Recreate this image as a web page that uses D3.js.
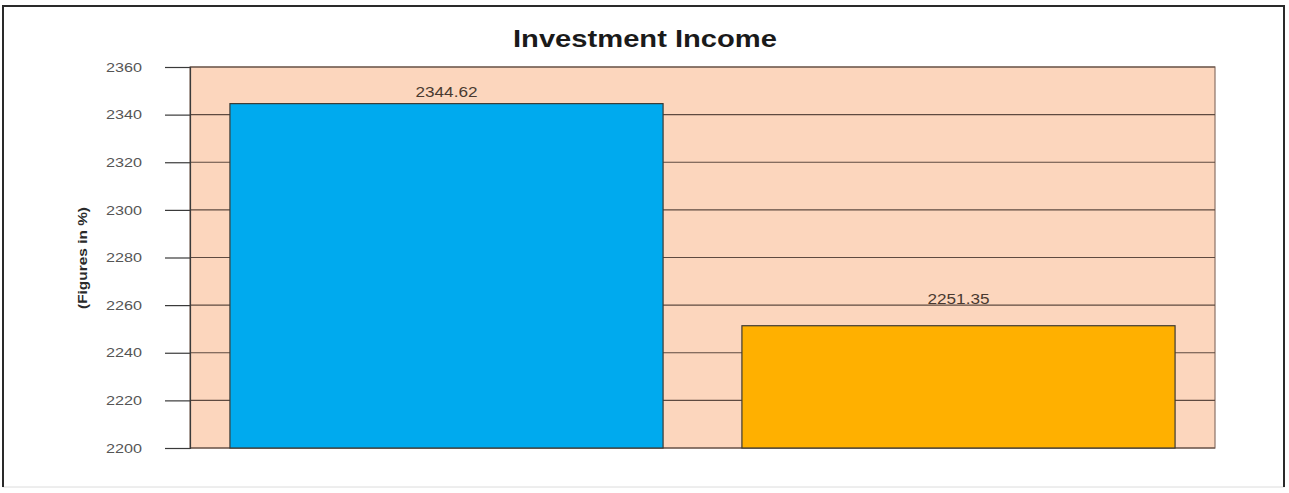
<!DOCTYPE html>
<html>
<head>
<meta charset="utf-8">
<script src="https://cdn.jsdelivr.net/npm/d3@7/dist/d3.min.js"></script>
<style>
  html, body { margin: 0; padding: 0; background: #ffffff; }
  svg { display: block; }
</style>
</head>
<body>
<svg id="chart" width="1289" height="493"></svg>
<script>
// Investment income for the two periods compared
const categories = ["Previous Year", "Current Year"];
const values = [2344.62, 2251.35];
const barColors = ["#00aaee", "#ffb000"];
const yTicks = [2200, 2220, 2240, 2260, 2280, 2300, 2320, 2340, 2360];
const titleText = "Investment Income";
const yLabelText = "(Figures in %)";

const svg = d3.select("#chart");
const font = "'Liberation Sans', Arial, sans-serif";

// outer frame
svg.append("rect")
  .attr("x", 3).attr("y", 6)
  .attr("width", 1281).attr("height", 481)
  .attr("fill", "#ffffff")
  .attr("stroke", "#dcdcdc").attr("stroke-width", 1);
svg.append("path")
  .attr("d", "M3,487 V6 H1284 V487")
  .attr("fill", "none")
  .attr("stroke", "#2a2a2a").attr("stroke-width", 2);

const plot = { left: 190, right: 1215, top: 67, bottom: 448 };

const x = d3.scaleBand()
  .domain(categories)
  .range([plot.left, plot.right])
  .paddingInner(0.154)
  .paddingOuter(0.078);

const y = d3.scaleLinear()
  .domain([yTicks[0], yTicks[yTicks.length - 1]])
  .range([plot.bottom, plot.top]);

// plot background
svg.append("rect")
  .attr("x", plot.left).attr("y", plot.top)
  .attr("width", plot.right - plot.left).attr("height", plot.bottom - plot.top)
  .attr("fill", "#fcd6bd")
  .attr("stroke", "#8a7266").attr("stroke-width", 1.2);

// horizontal grid lines
svg.append("g")
  .selectAll("line")
  .data(yTicks)
  .join("line")
  .attr("x1", plot.left).attr("x2", plot.right)
  .attr("y1", d => y(d)).attr("y2", d => y(d))
  .attr("stroke", "#5e4a40").attr("stroke-width", 1.2);

// y axis with outward ticks
const yAxis = svg.append("g")
  .attr("transform", `translate(${plot.left},0)`)
  .call(d3.axisLeft(y).tickValues(yTicks).tickSize(25).tickPadding(23).tickFormat(d3.format("d")));
yAxis.select(".domain").attr("stroke", "#3a3a3a").attr("stroke-width", 1.2);
yAxis.selectAll(".tick line").attr("stroke", "#3a3a3a").attr("stroke-width", 1.2);
yAxis.selectAll(".tick text")
  .attr("fill", "#555")
  .attr("textLength", 36)
  .attr("lengthAdjust", "spacingAndGlyphs")
  .style("font-family", font)
  .style("font-size", "13px");

// bars
svg.append("g")
  .selectAll("rect")
  .data(values)
  .join("rect")
  .attr("x", (d, i) => x(categories[i]))
  .attr("y", d => y(d))
  .attr("width", x.bandwidth())
  .attr("height", d => y(yTicks[0]) - y(d))
  .attr("fill", (d, i) => barColors[i])
  .attr("stroke", "#3d3a33").attr("stroke-width", 1.2);

// value labels, lifted above each bar top
const labelLift = [7, 22];
svg.append("g")
  .selectAll("text")
  .data(values)
  .join("text")
  .attr("x", (d, i) => x(categories[i]) + x.bandwidth() / 2)
  .attr("y", (d, i) => y(d) - labelLift[i])
  .attr("text-anchor", "middle")
  .attr("fill", "#4a3a30")
  .attr("textLength", 62)
  .attr("lengthAdjust", "spacingAndGlyphs")
  .style("font-family", font)
  .style("font-size", "14px")
  .text(d => d.toFixed(2));

// title
svg.append("text")
  .attr("x", 645).attr("y", 47)
  .attr("text-anchor", "middle")
  .attr("fill", "#1a1a1a")
  .attr("textLength", 264)
  .attr("lengthAdjust", "spacingAndGlyphs")
  .style("font-family", font)
  .style("font-weight", "bold")
  .style("font-size", "24px")
  .text(titleText);

// y axis label
svg.append("text")
  .attr("transform", "translate(87,258) rotate(-90)")
  .attr("text-anchor", "middle")
  .attr("fill", "#2a2a2a")
  .attr("textLength", 102)
  .attr("lengthAdjust", "spacingAndGlyphs")
  .style("font-family", font)
  .style("font-weight", "bold")
  .style("font-size", "12px")
  .text(yLabelText);
</script>
</body>
</html>
